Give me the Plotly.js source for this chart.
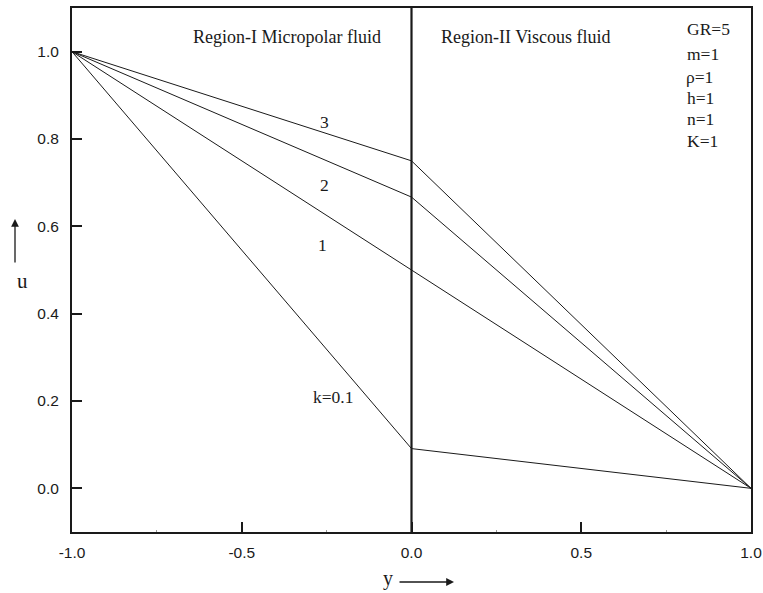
<!DOCTYPE html>
<html>
<head>
<meta charset="utf-8">
<script src="https://cdn.plot.ly/plotly-3.0.1.min.js"></script>
<style>
  html, body { margin: 0; padding: 0; background: #fff; }
  #chart { width: 763px; height: 593px; }
</style>
</head>
<body>
<div id="chart"></div>
<script>
// Velocity profiles u(y) across the two-layer channel
const yPos = [-1.0, 0.0, 1.0];               // wall, interface, wall
const kValues = ['k=0.1', '1', '2', '3'];     // curve labels
const uWallLeft = [1.0, 1.0, 1.0, 1.0];
const uInterface = [0.091, 0.5, 0.667, 0.75];
const uWallRight = [0.0, 0.0, 0.0, 0.0];

// label anchor points for each curve (data coords)
const labelX = [-0.231, -0.261, -0.255, -0.255];
const labelY = [0.209, 0.557, 0.695, 0.839];

const xTickVals = [-1.0, -0.5, 0.0, 0.5, 1.0];
const xTickText = ['-1.0', '-0.5', '0.0', '0.5', '1.0'];
const yTickVals = [0.0, 0.2, 0.4, 0.6, 0.8, 1.0];
const yTickText = ['0.0', '0.2', '0.4', '0.6', '0.8', '1.0'];

const params = ['GR=5', 'm=1', '\u03c1=1', 'h=1', 'n=1', 'K=1'];
const paramY = [1.053, 0.995, 0.942, 0.894, 0.846, 0.796];
const paramX = [0.805, 0.807, 0.803, 0.807, 0.807, 0.807];

const serif = 'Liberation Serif, Times New Roman, serif';
const sans = 'Liberation Sans, Arial, sans-serif';
const ink = '#1a1a1a';

const traces = kValues.map((name, i) => ({
  type: 'scatter',
  mode: 'lines',
  name: name,
  x: yPos,
  y: [uWallLeft[i], uInterface[i], uWallRight[i]],
  line: { color: ink, width: 1 },
  hoverinfo: 'x+y'
}));

const annotations = [];
kValues.forEach((name, i) => {
  annotations.push({
    x: labelX[i], y: labelY[i], xref: 'x', yref: 'y',
    text: name, showarrow: false,
    font: { family: serif, size: 17.5, color: ink }
  });
});
annotations.push({
  x: -0.368, y: 1.033, xref: 'x', yref: 'y',
  text: 'Region-I Micropolar fluid', showarrow: false,
  font: { family: serif, size: 18, color: ink }
});
annotations.push({
  x: 0.338, y: 1.033, xref: 'x', yref: 'y',
  text: 'Region-II Viscous fluid', showarrow: false,
  font: { family: serif, size: 18, color: ink }
});
params.forEach((p, i) => {
  annotations.push({
    x: paramX[i], y: paramY[i], xref: 'x', yref: 'y',
    xanchor: 'left',
    text: p, showarrow: false,
    font: { family: serif, size: 17.5, color: ink }
  });
});
// axis titles with arrows
annotations.push({
  x: (388 - 72) / 679, y: (532 - 592) / 524, xref: 'paper', yref: 'paper',
  xanchor: 'center', yanchor: 'bottom',
  text: 'y', showarrow: false,
  font: { family: serif, size: 20, color: ink }
});
annotations.push({
  x: (454 - 72) / 679, y: (532 - 582) / 524, xref: 'paper', yref: 'paper',
  ax: (398 - 72) / 679, ay: (532 - 582) / 524, axref: 'paper', ayref: 'paper',
  text: '', showarrow: true, arrowhead: 2, arrowsize: 1.2, arrowwidth: 1.3,
  arrowcolor: ink
});
annotations.push({
  x: (15 - 72) / 679, y: (532 - 281) / 524, xref: 'paper', yref: 'paper',
  text: 'u', showarrow: false,
  font: { family: serif, size: 21, color: ink }
});
annotations.push({
  x: (15 - 72) / 679, y: (532 - 219) / 524, xref: 'paper', yref: 'paper',
  ax: (15 - 72) / 679, ay: (532 - 264) / 524, axref: 'paper', ayref: 'paper',
  text: '', showarrow: true, arrowhead: 2, arrowsize: 1.2, arrowwidth: 1.3,
  arrowcolor: ink
});

const layout = {
  width: 763, height: 593,
  margin: { l: 72, r: 12, t: 8, b: 61, autoexpand: false },
  paper_bgcolor: '#fff', plot_bgcolor: '#fff',
  showlegend: false,
  xaxis: {
    range: [-1, 1],
    tickvals: xTickVals, ticktext: xTickText,
    ticks: 'inside', ticklen: 10, tickwidth: 2, tickcolor: ink,
    minor: { dtick: 0.25, ticks: 'inside', ticklen: 2, tickcolor: '#999', tickwidth: 1 },
    showline: true, linewidth: 2, linecolor: ink, mirror: true,
    showgrid: false, zeroline: false,
    tickfont: { family: sans, size: 15.5, color: ink },
    ticklabelstandoff: 5
  },
  yaxis: {
    range: [-0.1, 1.1],
    tickvals: yTickVals, ticktext: yTickText,
    ticks: 'inside', ticklen: 10, tickwidth: 2, tickcolor: ink,
    showline: true, linewidth: 2, linecolor: ink, mirror: true,
    showgrid: false, zeroline: false,
    tickfont: { family: sans, size: 15.5, color: ink },
    ticklabelstandoff: 8
  },
  shapes: [{
    type: 'line', xref: 'x', yref: 'paper',
    x0: 0, x1: 0, y0: 0, y1: 1,
    line: { color: ink, width: 2.2 }
  }],
  annotations: annotations
};

Plotly.newPlot('chart', traces, layout, { displayModeBar: false, staticPlot: true });
</script>
</body>
</html>
